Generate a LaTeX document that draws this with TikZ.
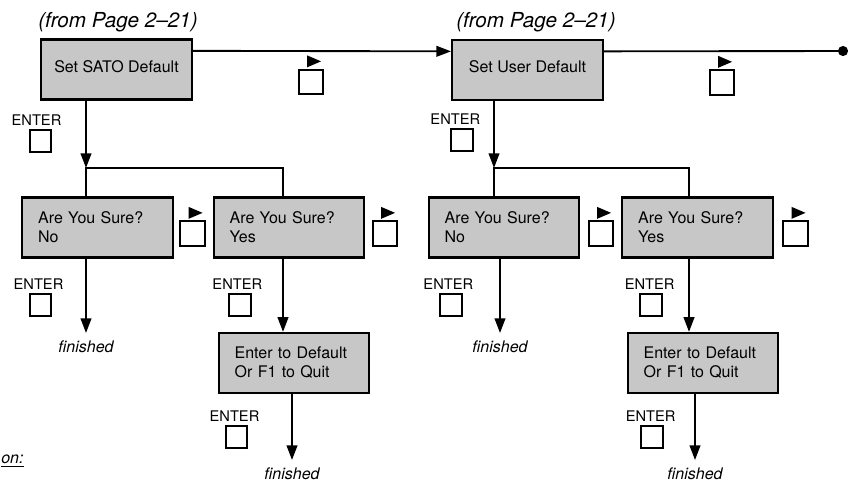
\documentclass[tikz,border=0pt]{standalone}
\usepackage{fontspec}
\setmainfont{TeX Gyre Heros}
\usetikzlibrary{arrows.meta,positioning,shapes.geometric}

\begin{document}
\begin{tikzpicture}[x=0.75pt, y=-0.75pt, every node/.style={font=\fontsize{12}{14.25}\selectfont},
  screen/.style={draw, line width=1.7pt, fill=black!22, minimum width=113pt, minimum height=45pt},
  twoline/.style={text width=89pt, align=left},
  arrow/.style={-{Triangle[length=11pt, width=8pt]}, line width=1.4pt},
  link/.style={line width=1.4pt},
  keybox/.style={draw, line width=1.6pt, minimum size=18.5pt, inner sep=0pt},
  enterbox/.style={draw, line width=1.6pt, minimum size=16pt, inner sep=0pt},
  keylabel/.style={font=\fontsize{11}{12}\selectfont, inner sep=1pt},
  rightkey/.style={isosceles triangle, isosceles triangle stretches, fill, inner sep=0pt, minimum width=9pt, minimum height=10.5pt},
  finished/.style={font=\itshape\fontsize{12}{13}\selectfont, anchor=north, inner sep=5.5pt},
  frompage/.style={font=\itshape\fontsize{15.5}{17}\selectfont}]
    \useasboundingbox (0,0) rectangle (849,487);
    % screens
    \node[screen] (sato) at (116.5,69.5) {\raisebox{5pt}{Set SATO Default}};
    \node[screen] (user) at (527.5,70) {\raisebox{5pt}{Set User Default}};
    \node[screen, twoline] (satono) at (97.5,227.5) {Are You Sure?\\No};
    \node[screen, twoline] (satoyes) at (289,227.5) {Are You Sure?\\Yes};
    \node[screen, twoline] (satoquit) at (294,363) {Enter to Default\\Or F1 to Quit};
    \node[screen, twoline] (userno) at (504,227.5) {Are You Sure?\\No};
    \node[screen, twoline] (useryes) at (697.5,227.5) {Are You Sure?\\Yes};
    \node[screen, twoline] (userquit) at (703,363) {Enter to Default\\Or F1 to Quit};
    \node[frompage] (from1) at (118,22) {(from Page 2--21)};
    \node[frompage] (from2) at (536,22) {(from Page 2--21)};
    \node[finished] (fin1) at (86,333) {finished};
    \node[finished] (fin2) at (292,460) {finished};
    \node[finished] (fin3) at (500,333) {finished};
    \node[finished] (fin4) at (695,460) {finished};
    \node[font=\itshape\fontsize{12}{13}\selectfont, anchor=west, inner sep=0pt] (opnote) at (1,461) {\underline{on:}};
    % keys
    \node[keybox] (sk1) at (311,82) {};
    \node[keybox] (sk2) at (192.5,233.5) {};
    \node[keybox] (sk3) at (385,233.5) {};
    \node[keybox] (uk1) at (722,82.5) {};
    \node[keybox] (uk2) at (601,233.5) {};
    \node[keybox] (uk3) at (795.5,233.5) {};
    \node[rightkey, above=2pt of sk1] (sk1t) {};
    \node[rightkey, above=2pt of sk2] (sk2t) {};
    \node[rightkey, above=2pt of sk3] (sk3t) {};
    \node[rightkey, above=2pt of uk1] (uk1t) {};
    \node[rightkey, above=2pt of uk2] (uk2t) {};
    \node[rightkey, above=2pt of uk3] (uk3t) {};
    \node[enterbox] (se1) at (40.5,141) {};
    \node[enterbox] (se2) at (40.5,305) {};
    \node[enterbox] (se3) at (240,305) {};
    \node[enterbox] (se4) at (236.5,437) {};
    \node[enterbox] (ue1) at (462,140) {};
    \node[enterbox] (ue2) at (451,305) {};
    \node[enterbox] (ue3) at (651,305) {};
    \node[enterbox] (ue4) at (652,437) {};
    \node[keylabel, above=2pt of se1, xshift=-3pt] (se1l) {ENTER};
    \node[keylabel, above=2pt of se2, xshift=-1.5pt] (se2l) {ENTER};
    \node[keylabel, above=2pt of se3, xshift=-2pt] (se3l) {ENTER};
    \node[keylabel, above=2pt of se4, xshift=-1.5pt] (se4l) {ENTER};
    \node[keylabel, above=2pt of ue1, xshift=-5pt] (ue1l) {ENTER};
    \node[keylabel, above=2pt of ue2, xshift=-2pt] (ue2l) {ENTER};
    \node[keylabel, above=2pt of ue3, xshift=-1pt] (ue3l) {ENTER};
    \node[keylabel, above=2pt of ue4, xshift=-1pt] (ue4l) {ENTER};
    % connectors
    \coordinate (sj1) at (86,168);
    \coordinate (sj2) at (283,168);
    \coordinate (uj1) at (494,168);
    \coordinate (uj2) at (689,168);
    \coordinate (edge) at (848,51);
    \draw[arrow] ([yshift=14pt]sato.east) -- ([yshift=14pt]user.west);
    \draw[link, -{Circle[length=7.5pt]}] ([yshift=14pt]user.east) -- (edge);
    \draw[arrow] (sato.south -| sj1) -- (sj1);
    \draw[link] (satono.north -| sj1) -- (sj1) -- (sj2) -- (satoyes.north -| sj2);
    \draw[arrow] (satono.south -| fin1.north) -- (fin1.north);
    \draw[arrow] (satoyes.south -| sj2) -- (satoquit.north -| sj2);
    \draw[arrow] (satoquit.south -| fin2.north) -- (fin2.north);
    \draw[arrow] (user.south -| uj1) -- (uj1);
    \draw[link] (userno.north -| uj1) -- (uj1) -- (uj2) -- (useryes.north -| uj2);
    \draw[arrow] (userno.south -| fin3.north) -- (fin3.north);
    \draw[arrow] (useryes.south -| uj2) -- (userquit.north -| uj2);
    \draw[arrow] (userquit.south -| fin4.north) -- (fin4.north);
\end{tikzpicture}
\end{document}
